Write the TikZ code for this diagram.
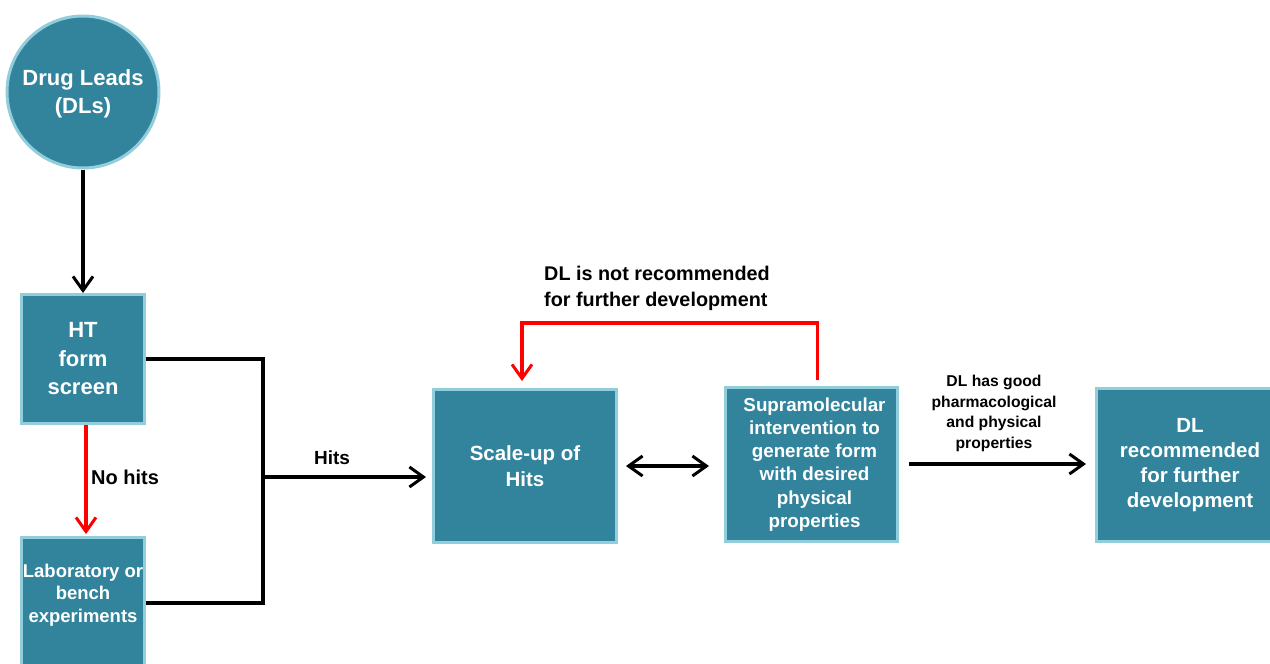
\documentclass[tikz,border=0pt]{standalone}
\usepackage{fontspec}
\setmainfont{Liberation Sans}
\usetikzlibrary{arrows.meta}
\definecolor{teal}{HTML}{31849B}
\definecolor{edge}{HTML}{92CDDC}
\definecolor{redline}{HTML}{FF0000}
\tikzset{
  box/.style={rectangle, fill=teal, draw=edge, line width=3pt, inner sep=0pt, text=white, align=center},
  btext/.style={text=white, align=center, inner sep=0pt},
  barb/.tip={Straight Barb[length=14pt,width=20pt,line width=3pt]},
  tip/.style={-barb},
  conn/.style={black, line width=3.2pt, line join=miter},
  rconn/.style={redline, line width=3.2pt},
  lbl/.style={black, inner sep=0pt}
}
\begin{document}
\begin{tikzpicture}[x=1pt,y=-1pt]
\useasboundingbox (0,0) rectangle (1270,664);
\clip (0,0) rectangle (1270,664);

% nodes
\node[box, circle, minimum size=152pt, font=\bfseries\fontsize{22}{28}\selectfont,
  label={[btext, yshift=-2pt, font=\bfseries\fontsize{22}{28}\selectfont]center:{Drug Leads\\(DLs)}}] (dl) at (83,92) {};
\node[box, minimum width=123pt, minimum height=129pt, font=\bfseries\fontsize{22}{28.5}\selectfont] (ht) at (83,359)
  {HT\\form\\screen};
\node[box, minimum width=123pt, minimum height=131pt,
  label={[btext, yshift=8pt, font=\bfseries\fontsize{18.5}{22.5}\selectfont]center:{Laboratory or\\bench\\experiments}}] (lab) at (83,603) {};
\node[box, minimum width=183pt, minimum height=153pt, font=\bfseries\fontsize{20.5}{25.7}\selectfont] (scale) at (525,466)
  {Scale-up of\\Hits};
\node[box, minimum width=172pt, minimum height=154pt, font=\bfseries\fontsize{18.8}{23.1}\selectfont] (supra) at (811.5,464.5)
  {\hspace*{6pt}Supramolecular\\\hspace*{6pt}intervention to\\\hspace*{6pt}generate form\\\hspace*{6pt}with desired\\\hspace*{6pt}physical\\\hspace*{6pt}properties};
\node[box, minimum width=187pt, minimum height=153pt, font=\bfseries\fontsize{20.5}{25}\selectfont] (rec) at (1190,465)
  {DL\\recommended\\for further\\development};

% labels
\node[lbl, anchor=west, font=\bfseries\fontsize{20}{24}\selectfont] (nohits) at (91,477) {No hits};
\node[lbl, font=\bfseries\fontsize{19}{23}\selectfont] (hits) at (332,458) {Hits};
\node[lbl, anchor=west, align=left, font=\bfseries\fontsize{19.8}{26}\selectfont] (notrec) at (544,288)
  {DL is not recommended\\for further development};
\node[lbl, align=center, font=\bfseries\fontsize{15.7}{20.7}\selectfont] (good) at (994,413.5)
  {DL has good\\pharmacological\\and physical\\properties};

% connectors
\draw[conn, tip] (dl.south) -- (ht.north);
\draw[rconn, tip, shorten >=2pt] ([xshift=3pt]ht.south) -- ([xshift=3pt]lab.north);
\coordinate (j) at (263,477);
\draw[conn] (ht.east) -| (j);
\draw[conn] (lab.east) -| (j);
\draw[conn, tip, shorten >=6pt] (j) -- (j -| scale.west);
\draw[conn, barb-barb, shorten <=8pt, shorten >=15pt] (scale.east) -- (scale.east -| supra.west);
\coordinate (rs) at ([xshift=6pt]supra.north);
\draw[rconn, tip, shorten <=6pt, shorten >=7pt] (rs) -- ++(0,-63) -| ([xshift=-3pt]scale.north);
\draw[conn, tip, shorten <=10pt, shorten >=9pt] ([yshift=0.5pt]supra.east) -- ([yshift=0.5pt]supra.east -| rec.west);
\end{tikzpicture}
\end{document}
